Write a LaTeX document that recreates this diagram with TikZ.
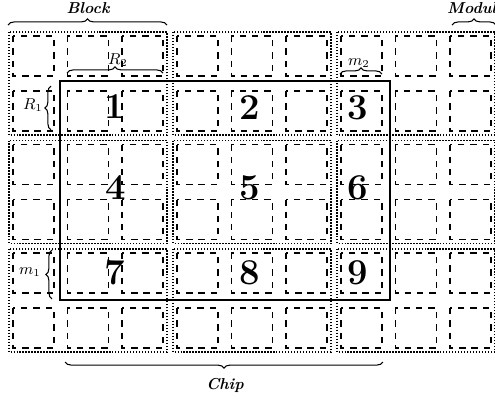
\documentclass[tikz,border=0pt]{standalone}
\usetikzlibrary{decorations.pathreplacing,positioning}

\begin{document}
\begin{tikzpicture}[
   x=0.02cm, y=-0.02cm,
   font=\footnotesize,
   blk/.style={draw, line width=1pt, dash pattern=on 0.8pt off 0.9pt},
   mdl/.style={draw, line width=0.65pt, dash pattern=on 3.6pt off 3.4pt},
   chipbox/.style={draw, line width=0.85pt},
   num/.style={font=\huge\bfseries, inner sep=0pt},
   brc/.style={decorate, decoration={brace, amplitude=3.5pt}, line width=0.6pt},
   lbl/.style={font=\small\bfseries\itshape, inner sep=1pt},
   sym/.style={font=\small, inner sep=1pt}]
   \useasboundingbox (0,0) rectangle (495,400);
   % blocks, each with 3x2 modules
   \foreach \bx in {0,1,2}
     \foreach \by in {0,1,2} {
       \pgfmathsetmacro{\xo}{9+164*\bx}
       \pgfmathsetmacro{\yo}{32+108.5*\by}
       \draw[blk] (\xo,\yo) rectangle ++(158,103);
       \foreach \i in {0,1,2}
         \foreach \j in {0,1}
           \draw[mdl] (\xo+4+54.5*\i,\yo+4+55*\j) rectangle ++(41,40);
     }
   % chip
   \draw[chipbox] (60,81) rectangle (390,300);
   \node[num] (n1) at (115,107) {1};
   \node[num] (n2) at (250,108) {2};
   \node[num] (n3) at (358,108) {3};
   \node[num] (n4) at (116,188) {4};
   \node[num] (n5) at (250,188) {5};
   \node[num] (n6) at (358,188) {6};
   \node[num] (n7) at (115,272) {7};
   \node[num] (n8) at (250,273) {8};
   \node[num] (n9) at (358,273) {9};
   % braces
   \draw[brc] (8,25) -- (167,25);
   \node[lbl] (block) at (88,8) {Block};
   \draw[brc] (452,25) -- (496,25);
   \node[lbl] (module) at (476,8) {Module};
   \draw[brc] (67,73) -- (163,73);
   \node[sym] (r2) at (118,60) {$R_2$};
   \draw[brc] (51,130) -- (51,86);
   \node[sym] (r1) at (33,105) {$R_1$};
   \draw[brc] (340,74) -- (382,74);
   \node[sym] (m2) at (359,63) {$m_2$};
   \draw[brc] (52,299) -- (52,250);
   \node[sym] (m1) at (30,272) {$m_1$};
   \draw[brc] (383,362) -- (65,362);
   \node[lbl] (chip) at (225,385) {Chip};
\end{tikzpicture}
\end{document}
